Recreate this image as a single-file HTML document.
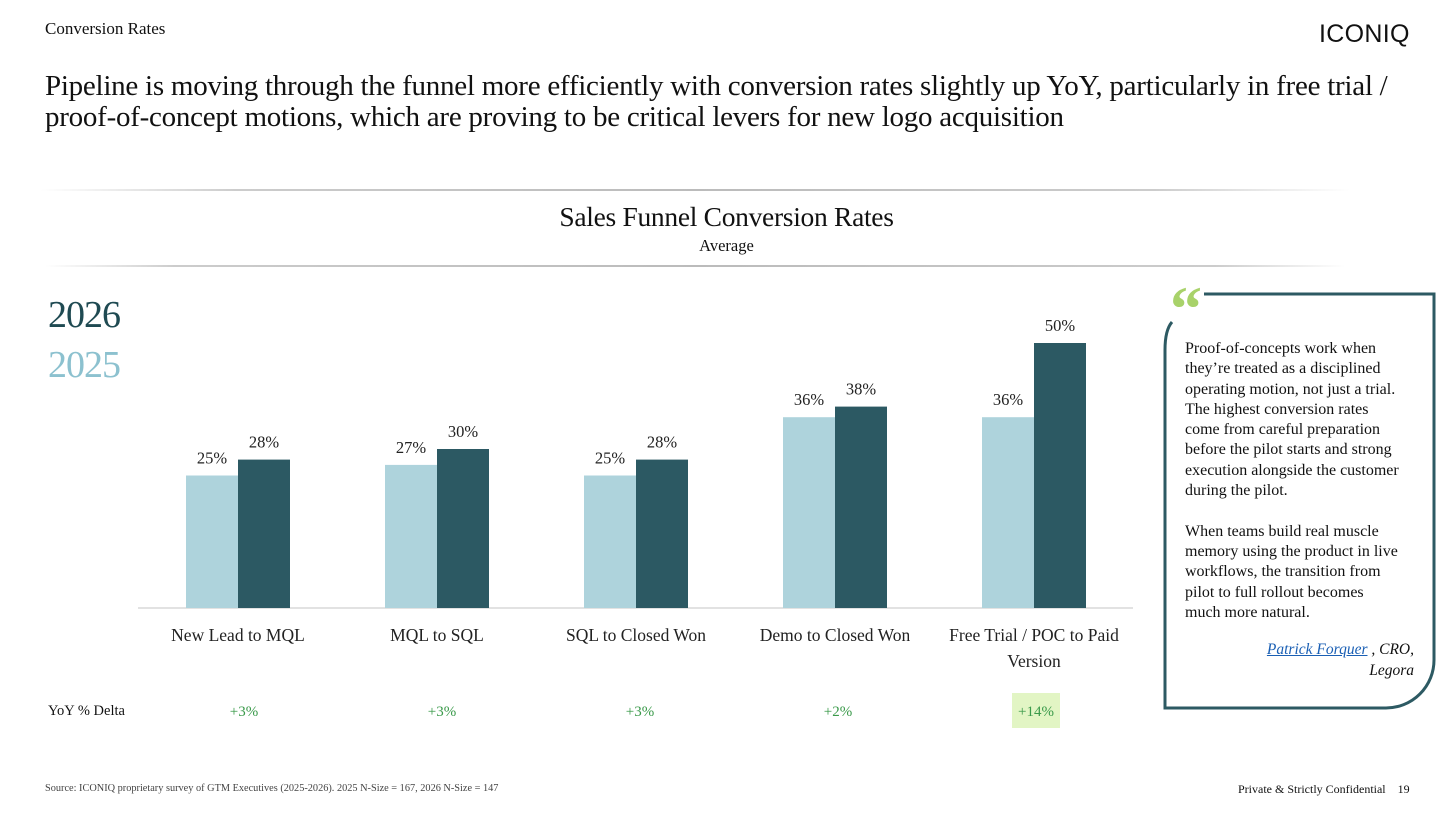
<!DOCTYPE html>
<html><head><meta charset="utf-8"><style>
body{margin:0;width:1456px;height:814px;background:#fff;font-family:"Liberation Serif",serif;color:#111;position:relative;overflow:hidden}
.a{position:absolute;white-space:nowrap}
</style></head><body>
<div class="a" style="left:45px;top:19px;font-size:17px">Conversion Rates</div>
<div class="a" style="left:1319px;top:20px;font-size:25px;letter-spacing:0.3px;font-family:'Liberation Sans',sans-serif">ICONIQ</div>
<div class="a" style="left:45px;top:71px;font-size:29px;line-height:31px;letter-spacing:-0.25px">Pipeline is moving through the funnel more efficiently with conversion rates slightly up YoY, particularly in free trial /<br>proof-of-concept motions, which are proving to be critical levers for new logo acquisition</div>
<div class="a" style="left:40px;top:189px;width:1310px;height:2px;background:linear-gradient(90deg,#fff,#ccc 15%,#bbb 50%,#ccc 85%,#fff)"></div>
<div class="a" style="left:0;width:1453px;text-align:center;top:201px;font-size:27.5px;letter-spacing:-0.3px">Sales Funnel Conversion Rates</div>
<div class="a" style="left:0;width:1453px;text-align:center;top:236px;font-size:16.5px">Average</div>
<div class="a" style="left:45px;top:265px;width:1300px;height:2px;background:linear-gradient(90deg,#fff,#ccc 10%,#bbb 50%,#ccc 90%,#fff)"></div>
<div class="a" style="left:48px;top:293px;font-size:38px;color:#1f4a52;letter-spacing:-1px">2026</div>
<div class="a" style="left:48px;top:343px;font-size:38px;color:#8cc1cf;letter-spacing:-1px">2025</div>
<svg class="a" style="left:0;top:0" width="1456" height="814" id="chart"></svg>
<div class="a" style="left:48px;top:703px;font-size:14.5px">YoY % Delta</div>
<div class="a" style="left:1170px;top:272px;font-size:64px;color:#a8d26a;font-weight:bold">“</div>
<svg class="a" style="left:1160px;top:290px" width="280" height="424">
<path d="M44 4 H274 V370 A48 48 0 0 1 226 418 H5 V60 Q5 40 12 32" fill="none" stroke="#2d5a63" stroke-width="3"/>
</svg>
<div class="a" style="left:1185px;top:339px;font-size:16px;line-height:20.3px">Proof-of-concepts work when<br>they’re treated as a disciplined<br>operating motion, not just a trial.<br>The highest conversion rates<br>come from careful preparation<br>before the pilot starts and strong<br>execution alongside the customer<br>during the pilot.<br><br>When teams build real muscle<br>memory using the product in live<br>workflows, the transition from<br>pilot to full rollout becomes<br>much more natural.</div>
<div class="a" style="right:42px;top:639px;font-size:15.5px;line-height:21px;font-style:italic;text-align:right"><span style="color:#1a5fb4;text-decoration:underline">Patrick Forquer</span> , CRO,<br>Legora</div>
<div class="a" style="left:45px;top:783px;font-size:10.3px;color:#444">Source: ICONIQ proprietary survey of GTM Executives (2025-2026). 2025 N-Size = 167, 2026 N-Size = 147</div>
<div class="a" style="left:1238px;top:782px;font-size:12px">Private &amp; Strictly Confidential &nbsp;&nbsp; 19</div>
<script>
const categories=["New Lead to MQL","MQL to SQL","SQL to Closed Won","Demo to Closed Won","Free Trial / POC to Paid|Version"];
const values2025=[25,27,25,36,36];
const values2026=[28,30,28,38,50];
const deltas=["+3%","+3%","+3%","+2%","+14%"];
const svg=document.getElementById('chart');
const NS='http://www.w3.org/2000/svg';
const base=608,scale=5.3,x0=238,step=199,bw=52;
const y=v=>base-v*scale;
const cx=i=>x0+i*step;
function mk(t,a){const e=document.createElementNS(NS,t);for(const k in a)e.setAttribute(k,a[k]);svg.appendChild(e);return e;}
const ax=mk('line',{x1:138,x2:1133,y1:base,y2:base,stroke:'#d8d8d8','stroke-width':1.5});


categories.forEach((c,i)=>{
  const b1=mk('rect',{x:cx(i)-bw,y:y(values2025[i]),width:bw,height:values2025[i]*scale,fill:'#aed3dc'});
  
  
  const b2=mk('rect',{x:cx(i),y:y(values2026[i]),width:bw,height:values2026[i]*scale,fill:'#2c5963'});
  
  
  const l1=mk('text',{x:cx(i)-bw/2,y:y(values2025[i])-12,'text-anchor':'middle','font-size':16.5,fill:'#222','font-family':'Liberation Serif'});
  l1.textContent=values2025[i]+'%';
  
  
  const l2=mk('text',{x:cx(i)+bw/2,y:y(values2026[i])-12,'text-anchor':'middle','font-size':16.5,fill:'#222','font-family':'Liberation Serif'});
  l2.textContent=values2026[i]+'%';
  
  
  c.split('|').forEach((ln,j)=>{
    const t=mk('text',{x:cx(i),y:641+j*26,'text-anchor':'middle','font-size':17.5,fill:'#222','font-family':'Liberation Serif'});
    t.textContent=ln;
    
    
  });
  const dx=cx(i)+6-i*1;
  if(i===4){const h=mk('rect',{x:dx-24,y:693,width:48,height:35,fill:'#e2f5c4'});
    
    }
  const d=mk('text',{x:dx,y:716,'text-anchor':'middle','font-size':15,fill:'#3a9a4a','font-family':'Liberation Serif'});
  d.textContent=deltas[i];
  
  
});
</script>
</body></html>
